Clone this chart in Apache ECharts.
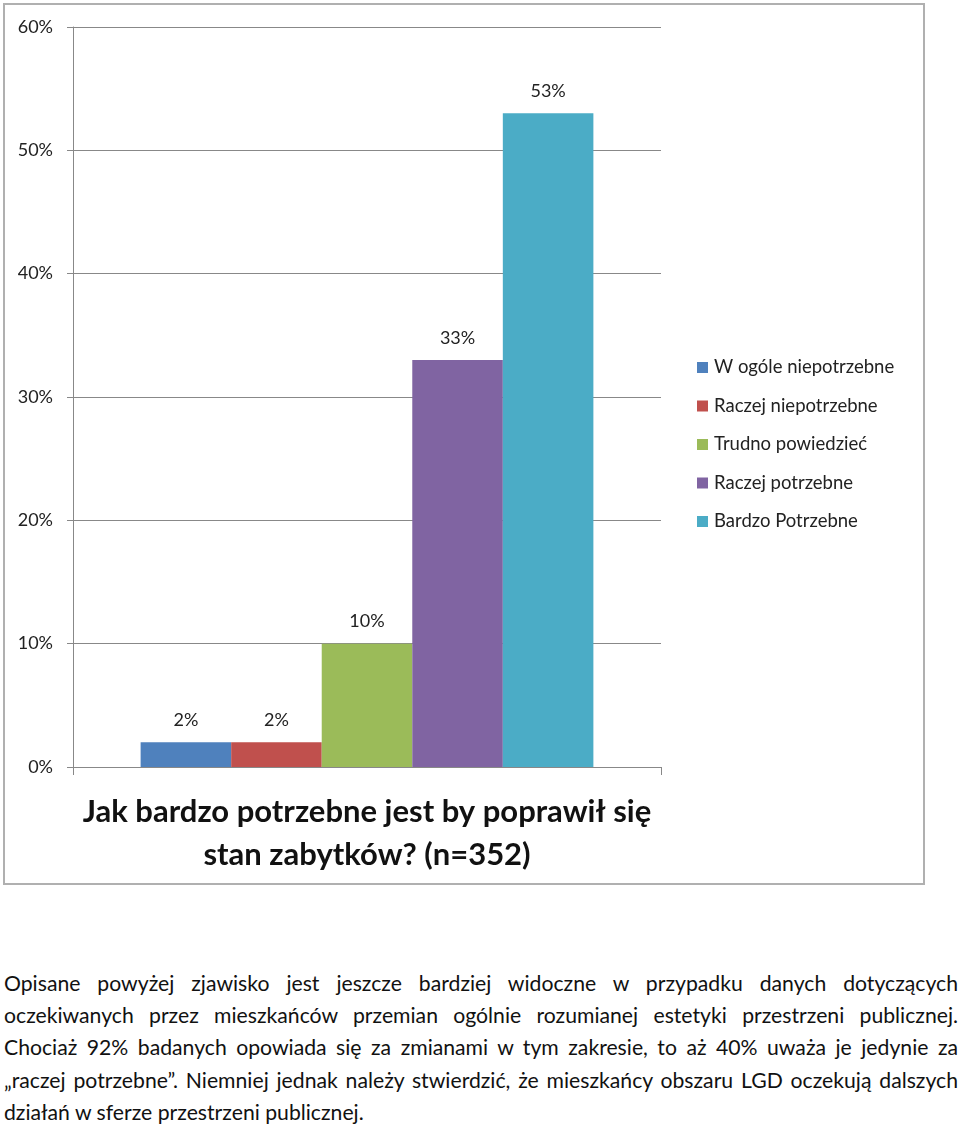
<!DOCTYPE html>
<html>
<head>
<meta charset="utf-8">
<script src="https://cdn.jsdelivr.net/npm/echarts@6/dist/echarts.min.js"></script>
<style>
html,body{margin:0;padding:0;background:#fff;width:960px;height:1126px;overflow:hidden;}
#chart{position:absolute;left:0;top:0;width:960px;height:900px;}
#para{position:absolute;left:4px;top:967px;width:954px;font-family:Lato,"Open Sans",sans-serif;font-size:21.2px;line-height:32.2px;color:#111;}
#para div{white-space:nowrap;text-align:justify;text-align-last:justify;}
#para div.last{text-align-last:left;}
</style>
</head>
<body>
<div id="chart"></div>
<div id="para">
<div>Opisane powyżej zjawisko jest jeszcze bardziej widoczne w przypadku danych dotyczących</div>
<div>oczekiwanych przez mieszkańców przemian ogólnie rozumianej estetyki przestrzeni publicznej.</div>
<div>Chociaż 92% badanych opowiada się za zmianami w tym zakresie, to aż 40% uważa je jedynie za</div>
<div>„raczej potrzebne”. Niemniej jednak należy stwierdzić, że mieszkańcy obszaru LGD oczekują dalszych</div>
<div class="last">działań w sferze przestrzeni publicznej.</div>
</div>
<script>
var categories = ["Jak bardzo potrzebne jest by poprawił się\nstan zabytków? (n=352)"];
var seriesNames = ["W ogóle niepotrzebne","Raczej niepotrzebne","Trudno powiedzieć","Raczej potrzebne","Bardzo Potrzebne"];
var seriesValues = [2, 2, 10, 33, 53];
var seriesColors = ["#4F81BD","#C0504D","#9BBB59","#8064A2","#4BACC6"];
var yTicks = [0,10,20,30,40,50,60];

var font = 'Lato, "Open Sans", sans-serif';
var chart = echarts.init(document.getElementById('chart'));
var series = seriesNames.map(function(n,i){
  return {
    name:n, type:'bar', data:[seriesValues[i]],
    barGap:'0%', barCategoryGap:'23%',
    itemStyle:{color:seriesColors[i]},
    label:{show:true, position:'top', distance:13, formatter:'{c}%', fontFamily:font, fontSize:18, color:'#222'}
  };
});
chart.setOption({
  animation:false,
  textStyle:{fontFamily:font},
  graphic:[{type:'rect', shape:{x:4,y:4,width:920,height:880}, style:{fill:'none', stroke:'#b0b0b0', lineWidth:2}, z:-1}],
  legend:{
    orient:'vertical', left:692, top:353, itemGap:19.5, itemWidth:11, itemHeight:11,
    icon:'rect', data:seriesNames,
    textStyle:{fontFamily:font, fontSize:18.5, color:'#222', padding:[0,0,0,1]}
  },
  grid:{left:73, right:299, top:27, bottom:133, containLabel:false},
  xAxis:{
    type:'category', data:categories,
    axisLine:{lineStyle:{color:'#888'}},
    axisTick:{show:true, length:8, lineStyle:{color:'#888'}},
    axisLabel:{fontFamily:font, fontSize:31, fontWeight:'bold', color:'#111', lineHeight:43, margin:23}
  },
  yAxis:{
    type:'value', min:yTicks[0], max:yTicks[yTicks.length-1], interval:10,
    axisLine:{show:true, lineStyle:{color:'#888'}},
    axisTick:{show:true, length:6, lineStyle:{color:'#888'}},
    splitLine:{lineStyle:{color:'#888'}},
    axisLabel:{formatter:'{value}%', fontFamily:font, fontSize:18, color:'#222', margin:20}
  },
  series:series
});
</script>
</body>
</html>
